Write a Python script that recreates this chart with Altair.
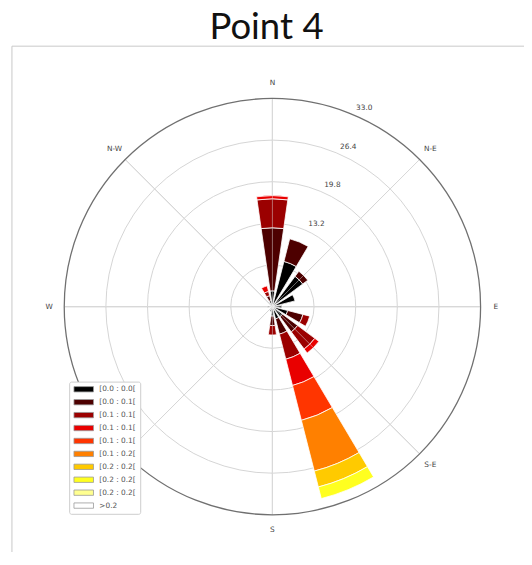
import json
import math

import altair as alt
import pandas as pd

TITLE = "Point 4"

DIRECTIONS = ["N", "NNE", "NE", "ENE", "E", "ESE", "SE", "SSE",
              "S", "SSW", "SW", "WSW", "W", "WNW", "NW", "NNW"]

BIN_LABELS = ["[0.0 : 0.0[", "[0.0 : 0.1[", "[0.1 : 0.1[", "[0.1 : 0.1[",
              "[0.1 : 0.1[", "[0.1 : 0.2[", "[0.2 : 0.2[", "[0.2 : 0.2[",
              "[0.2 : 0.2[", ">0.2"]
BIN_COLORS = ["#000000", "#4d0000", "#9b0000", "#e90000", "#ff3500",
              "#ff8000", "#ffca00", "#ffff20", "#ffff90", "#ffffff"]

# frequency (%) of each speed bin, per direction (N, NNE, ... NNW)
BIN0 = [2.5, 7.4, 6.0, 3.7, 1.5, 2.5, 2.0, 2.0, 1.5, 0.8, 0, 0, 0.8, 0, 0, 1.0]
BIN1 = [10.0, 3.7, 1.0, 0, 0, 2.5, 3.0, 2.5, 1.5, 0, 0, 0, 0, 0, 0, 0.8]
BIN2 = [4.6, 0, 0, 0, 0, 1.1, 3.4, 4.1, 1.5, 0, 0, 0, 0, 0, 0, 0.7]
BIN3 = [0.5, 0, 0, 0, 0, 0, 0.8, 4.3, 0, 0, 0, 0, 0, 0, 0, 0.9]
BIN4 = [0, 0, 0, 0, 0, 0, 0, 5.7, 0, 0, 0, 0, 0, 0, 0, 0]
BIN5 = [0, 0, 0, 0, 0, 0, 0, 8.3, 0, 0, 0, 0, 0, 0, 0, 0]
BIN6 = [0, 0, 0, 0, 0, 0, 0, 2.6, 0, 0, 0, 0, 0, 0, 0, 0]
BIN7 = [0, 0, 0, 0, 0, 0, 0, 1.9, 0, 0, 0, 0, 0, 0, 0, 0]
BIN8 = [0] * 16
BIN9 = [0] * 16
BINS = [BIN0, BIN1, BIN2, BIN3, BIN4, BIN5, BIN6, BIN7, BIN8, BIN9]

RING_VALUES = [6.6, 13.2, 19.8, 26.4]
RING_MAX = 33.0
RING_LABELS = [13.2, 19.8, 26.4, 33.0]
RING_LABEL_ANGLE = 22.5
COMPASS_LABELS = ["N", "N-E", "E", "S-E", "S", "W", "N-W"]
COMPASS_ANGLES = [0, 45, 90, 135, 180, 270, 315]
SPOKE_ANGLES = [0, 45, 90, 135, 180, 225, 270, 315]
COMPASS_LABEL_R = 35.4

SECTOR = 360 / len(DIRECTIONS)
HALF_OPENING = SECTOR * 0.73 / 2
R_PX = 211

rows = []
for d, name in enumerate(DIRECTIONS):
    cum = 0.0
    for b, series in enumerate(BINS):
        v = series[d]
        if v > 0:
            rows.append({"dir": name, "bin": str(b),
                         "t0": d * SECTOR - HALF_OPENING,
                         "t1": d * SECTOR + HALF_OPENING,
                         "r0": cum, "r1": cum + v})
            cum += v
bars_df = pd.DataFrame(rows)

tscale = alt.Scale(type="linear", domain=[0, 360], range=[0, 2 * math.pi])
rscale = alt.Scale(type="linear", domain=[0, RING_MAX], range=[0, R_PX])

rings = alt.Chart(pd.DataFrame({"v": RING_VALUES})).mark_arc(
    fillOpacity=0, stroke="#d4d4d4", strokeWidth=1
).encode(
    theta=alt.value(0), theta2=alt.value(2 * math.pi),
    radius=alt.Radius("v:Q", scale=rscale, stack=False),
)

spoke_df = pd.DataFrame({"a": SPOKE_ANGLES, "r": [RING_MAX] * len(SPOKE_ANGLES)})
spokes = alt.Chart(spoke_df).mark_arc(
    fillOpacity=0, stroke="#d4d4d4", strokeWidth=1
).encode(
    theta=alt.Theta("a:Q", scale=tscale, stack=False),
    theta2=alt.Theta2("a:Q"),
    radius=alt.Radius("r:Q", scale=rscale, stack=False),
)
spokes_over = alt.Chart(spoke_df).mark_arc(
    fillOpacity=0, stroke="#e0e0e0", strokeWidth=0.8, strokeOpacity=0.35
).encode(
    theta=alt.Theta("a:Q", scale=tscale, stack=False),
    theta2=alt.Theta2("a:Q"),
    radius=alt.Radius("r:Q", scale=rscale, stack=False),
)

ring_label_df = pd.DataFrame({"v": RING_LABELS,
                              "a": [RING_LABEL_ANGLE] * len(RING_LABELS),
                              "txt": [f"{v:.1f}" for v in RING_LABELS]})
ring_labels = alt.Chart(ring_label_df).mark_text(
    font="DejaVu Sans", fontSize=7.5, color="#444", align="left", baseline="bottom",
    dx=4, dy=-2
).encode(
    theta=alt.Theta("a:Q", scale=tscale, stack=False),
    radius=alt.Radius("v:Q", scale=rscale, stack=False),
    text="txt:N",
)

legend_expr = json.dumps(BIN_LABELS) + "[toNumber(datum.value)]"
bars = alt.Chart(bars_df).mark_arc(stroke="white", strokeWidth=0.8).encode(
    theta=alt.Theta("t0:Q", scale=tscale, stack=False),
    theta2=alt.Theta2("t1:Q"),
    radius=alt.Radius("r1:Q", scale=rscale, stack=False),
    radius2=alt.Radius2("r0:Q"),
    color=alt.Color(
        "bin:N",
        scale=alt.Scale(domain=[str(i) for i in range(10)], range=BIN_COLORS),
        legend=alt.Legend(
            title=None, orient="none", legendX=5, legendY=287,
            direction="vertical",
            fillColor="white", strokeColor="#cccccc", padding=4, cornerRadius=2,
            symbolType="M-3.3,-0.9H3.3V0.9H-3.3Z", symbolSize=36,
            symbolStrokeColor="#999999", symbolStrokeWidth=0.8, symbolOffset=7,
            labelExpr=legend_expr, labelFont="DejaVu Sans", labelFontSize=7.5,
            labelColor="#555555", labelOffset=12, rowPadding=3.1,
        ),
    ),
)

outer = alt.Chart(pd.DataFrame({"v": [RING_MAX]})).mark_arc(
    fillOpacity=0, stroke="#707070", strokeWidth=1.3
).encode(
    theta=alt.value(0), theta2=alt.value(2 * math.pi),
    radius=alt.Radius("v:Q", scale=rscale, stack=False),
)

compass_df = pd.DataFrame({"a": COMPASS_ANGLES, "txt": COMPASS_LABELS,
                           "r": [COMPASS_LABEL_R] * len(COMPASS_ANGLES)})
compass = alt.Chart(compass_df).mark_text(
    font="DejaVu Sans", fontSize=7.5, color="#444", align="center", baseline="middle"
).encode(
    theta=alt.Theta("a:Q", scale=tscale, stack=False),
    radius=alt.Radius("r:Q", scale=rscale, stack=False),
    text="txt:N",
)

frame_top = alt.Chart(pd.DataFrame({"k": [0]})).mark_rule(
    color="#c8c8c8", strokeWidth=1
).encode(x=alt.value(-53), x2=alt.value(470), y=alt.value(-53))
frame_left = alt.Chart(pd.DataFrame({"k": [0]})).mark_rule(
    color="#c8c8c8", strokeWidth=1
).encode(x=alt.value(-53), y=alt.value(-53), y2=alt.value(470))

chart = alt.layer(
    frame_top, frame_left, rings, spokes, ring_labels, bars, spokes_over, outer, compass
).properties(
    width=2 * R_PX, height=2 * R_PX,
    background="white",
    title=alt.TitleParams(TITLE, font="Lato", fontSize=37, fontWeight="normal",
                          color="#111111", anchor="middle", frame="group",
                          baseline="alphabetic", offset=-30, dx=-6),
    autosize=alt.AutoSizeParams(type="none"),
    padding={"left": 57, "top": 88, "right": 44, "bottom": 34},
).configure_view(strokeWidth=0)

chart.save("out.html", embed_options={"renderer": "svg", "actions": False})
